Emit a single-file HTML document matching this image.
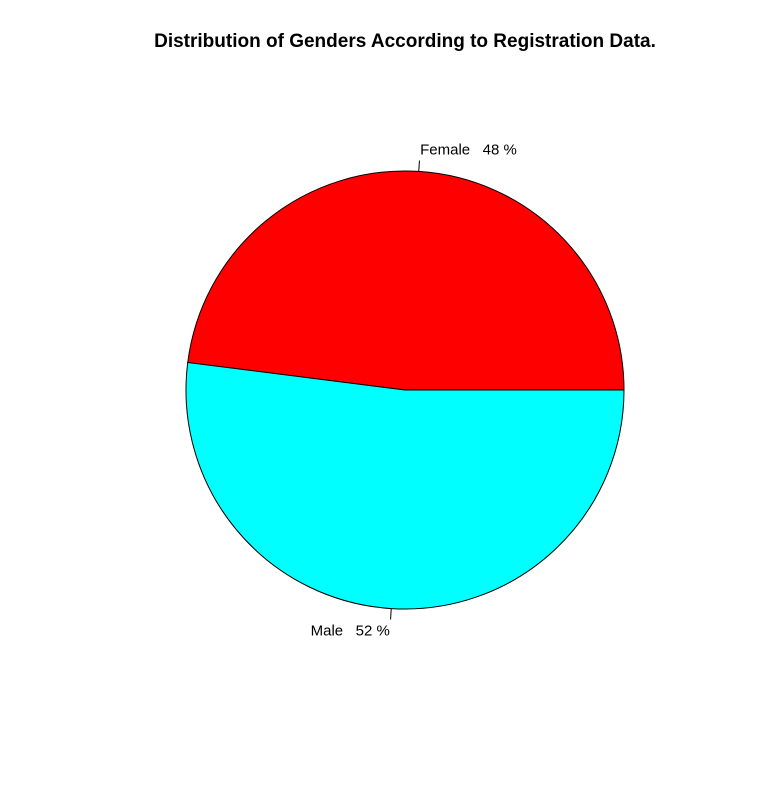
<!DOCTYPE html>
<html><head><meta charset="utf-8">
<style>
html,body{margin:0;padding:0;background:#fff;}
svg{display:block;font-family:"Liberation Sans",Arial,sans-serif;}
.lbl{white-space:pre;}
</style></head>
<body>
<svg id="chart" width="772" height="800" viewBox="0 0 772 800">
<rect width="772" height="800" fill="#fff"/>
<text x="405" y="47" text-anchor="middle" font-size="19" font-weight="bold">Distribution of Genders According to Registration Data.</text>
<g id="slices"></g>
</svg>
<script>
const categories = ["Female", "Male"];
const values = [48, 52];
const colors = ["#ff0000", "#00ffff"];

const cx = 405, cy = 390, r = 219;
const NS = "http://www.w3.org/2000/svg";
const g = document.getElementById("slices");
const total = values.reduce((a, b) => a + b, 0);
let start = 0;
function pt(a, rad) { return [cx + rad * Math.cos(a), cy - rad * Math.sin(a)]; }
values.forEach((v, i) => {
  const sweep = v / total * 2 * Math.PI;
  const end = start + sweep;
  const p0 = pt(start, r), p1 = pt(end, r);
  const large = sweep > Math.PI ? 1 : 0;
  const path = document.createElementNS(NS, "path");
  path.setAttribute("d", `M${cx},${cy} L${p0[0]},${p0[1]} A${r},${r} 0 ${large} 0 ${p1[0]},${p1[1]} Z`);
  path.setAttribute("fill", colors[i]);
  path.setAttribute("stroke", "#000");
  path.setAttribute("stroke-width", "1");
  
  
  g.appendChild(path);
  const mid = (start + end) / 2;
  const a1 = pt(mid, r), a2 = pt(mid, r * 1.05), lp = pt(mid, r * 1.1);
  const line = document.createElementNS(NS, "line");
  line.setAttribute("x1", a1[0]); line.setAttribute("y1", a1[1]);
  line.setAttribute("x2", a2[0]); line.setAttribute("y2", a2[1]);
  line.setAttribute("stroke", "#000");
  
  
  g.appendChild(line);
  const t = document.createElementNS(NS, "text");
  t.setAttribute("x", lp[0]);
  t.setAttribute("y", lp[1] + 5);
  t.setAttribute("font-size", "15");
  t.setAttribute("class", "lbl");
  t.setAttribute("text-anchor", Math.cos(mid) > 0 ? "start" : "end");
  t.textContent = categories[i] + "   " + v + " %";
  
  
  g.appendChild(t);
  start = end;
});
</script>
</body></html>
